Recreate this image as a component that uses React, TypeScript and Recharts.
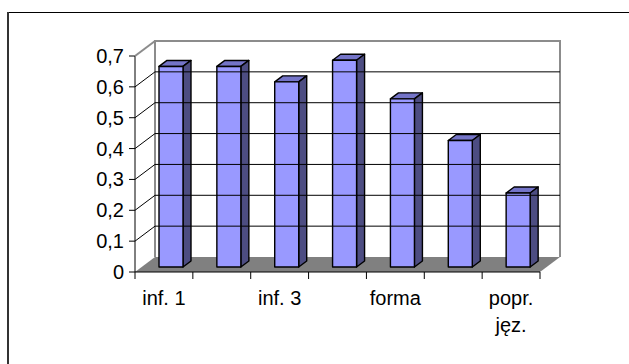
import { BarChart, Bar, XAxis, YAxis } from 'recharts';

const categories = ['inf. 1', 'inf. 2', 'inf. 3', 'inf. 4', 'forma', 'styl', 'popr. jęz.'];
const scores = [0.65, 0.65, 0.6, 0.67, 0.545, 0.41, 0.24];
const yTicks = [0, 0.1, 0.2, 0.3, 0.4, 0.5, 0.6, 0.7];

const data = categories.map((name, i) => ({ name, score: scores[i] }));

// pseudo-3D box: front (axis) plane, plane of the bar fronts, back wall
const W = 629;
const H = 364;
const FRONT_LEFT = 135;
const FRONT_ZERO = 272;
const PLOT_W = 405;
const PLOT_H = 216;
const BAR_DX = 7;
const BAR_DY = -5;
const BACK_DX = 20;
const BACK_DY = -15;
const DEPTH_DX = 8;
const DEPTH_DY = -6;

const PLOT_LEFT = FRONT_LEFT + BAR_DX;
const PLOT_TOP = FRONT_ZERO + BAR_DY - PLOT_H;
const BAND = PLOT_W / categories.length;
const BACK_TOP = FRONT_ZERO + BACK_DY - PLOT_H;

const FONT = '"Liberation Sans", Arial, sans-serif';
const WALL_EDGE = '#8c8c8c';

const fmt = (v: number) => String(Math.round(v * 10) / 10).replace('.', ',');

function Bar3D(props: any) {
  const { x, y, width, height } = props;
  if (height == null || width == null) return null;
  const r = x + width;
  const b = y + height;
  return (
    <g stroke="#000" strokeWidth={1.4} strokeLinejoin="round">
      <polygon
        points={`${x},${y} ${x + DEPTH_DX},${y + DEPTH_DY} ${r + DEPTH_DX},${y + DEPTH_DY} ${r},${y}`}
        fill="#7474c8"
      />
      <polygon
        points={`${r},${y} ${r + DEPTH_DX},${y + DEPTH_DY} ${r + DEPTH_DX},${b + DEPTH_DY} ${r},${b}`}
        fill="#4d4d82"
      />
      <rect x={x} y={y} width={width} height={height} fill="#9999ff" />
    </g>
  );
}

// value ticks on the front plane, plus the side-wall diagonal and back-wall gridline of each value
function YTick(props: any) {
  const { y, payload } = props;
  const v = payload.value as number;
  const fx = FRONT_LEFT;
  const fy = y - BAR_DY;
  const isTop = v === yTicks[yTicks.length - 1];
  const inner = v > 0 && !isTop;
  return (
    <g>
      <line x1={fx - 6} y1={fy} x2={fx} y2={fy} stroke="#000" />
      {v > 0 && (
        <line
          x1={fx}
          y1={fy}
          x2={fx + BACK_DX}
          y2={fy + BACK_DY}
          stroke={isTop ? WALL_EDGE : '#000'}
          strokeWidth={isTop ? 2 : 1}
        />
      )}
      {inner && (
        <line x1={fx + BACK_DX} y1={fy + BACK_DY} x2={fx + BACK_DX + PLOT_W} y2={fy + BACK_DY} stroke="#000" />
      )}
      <text x={fx - 11} y={fy} textAnchor="end" dominantBaseline="central" fontSize={20} fontFamily={FONT} fill="#000">
        {fmt(v)}
      </text>
    </g>
  );
}

function XTick(props: any) {
  const { x, payload, index } = props;
  const fx = x - BAR_DX;
  const left = fx - BAND / 2;
  const label = String(payload.value);
  const lines = label.length > 8 ? label.split(' ') : [label];
  const last = index === categories.length - 1;
  return (
    <g>
      <line x1={left} y1={FRONT_ZERO} x2={left} y2={FRONT_ZERO + 7} stroke="#000" />
      {last && <line x1={left + BAND} y1={FRONT_ZERO} x2={left + BAND} y2={FRONT_ZERO + 7} stroke="#000" />}
      {index % 2 === 0 &&
        lines.map((t, i) => (
          <text key={i} x={fx} y={305 + i * 27} textAnchor="middle" fontSize={20} fontFamily={FONT} fill="#000">
            {t}
          </text>
        ))}
    </g>
  );
}

export default function App() {
  const bx = FRONT_LEFT + BACK_DX;
  const by = FRONT_ZERO + BACK_DY;
  return (
    <div style={{ position: 'absolute', left: 0, top: 0, width: W, height: H, background: '#fff' }}>
      <svg width={W} height={H} style={{ position: 'absolute', left: 0, top: 0 }}>
        {/* chart frame, open to the right and bottom */}
        <line x1={8} y1={12.5} x2={W} y2={12.5} stroke="#000" />
        <line x1={8} y1={12} x2={8} y2={H} stroke="#333" strokeWidth={2} />
        <polygon
          points={`${FRONT_LEFT},${FRONT_ZERO} ${FRONT_LEFT + PLOT_W},${FRONT_ZERO} ${bx + PLOT_W},${by} ${bx},${by}`}
          fill="#808080"
        />
        <polyline
          points={`${bx},${by} ${bx},${BACK_TOP} ${bx + PLOT_W},${BACK_TOP} ${bx + PLOT_W},${by}`}
          fill="none"
          stroke={WALL_EDGE}
          strokeWidth={2}
        />
        <line x1={FRONT_LEFT} y1={FRONT_ZERO - PLOT_H} x2={FRONT_LEFT} y2={FRONT_ZERO} stroke="#000" />
        <line x1={FRONT_LEFT} y1={FRONT_ZERO} x2={FRONT_LEFT + PLOT_W} y2={FRONT_ZERO} stroke="#000" />
      </svg>
      <div style={{ position: 'absolute', left: 0, top: 0 }}>
        <BarChart
          width={W}
          height={H}
          data={data}
          margin={{ top: PLOT_TOP, right: W - PLOT_LEFT - PLOT_W, bottom: H - PLOT_TOP - PLOT_H - 60, left: PLOT_LEFT - 60 }}
        >
          <XAxis dataKey="name" interval={0} height={60} axisLine={false} tickLine={false} tick={<XTick />} />
          <YAxis
            domain={[0, 0.7]}
            ticks={yTicks}
            interval={0}
            width={60}
            axisLine={false}
            tickLine={false}
            tick={<YTick />}
          />
          <Bar dataKey="score" barSize={24} shape={<Bar3D />} isAnimationActive={false} />
        </BarChart>
      </div>
    </div>
  );
}
